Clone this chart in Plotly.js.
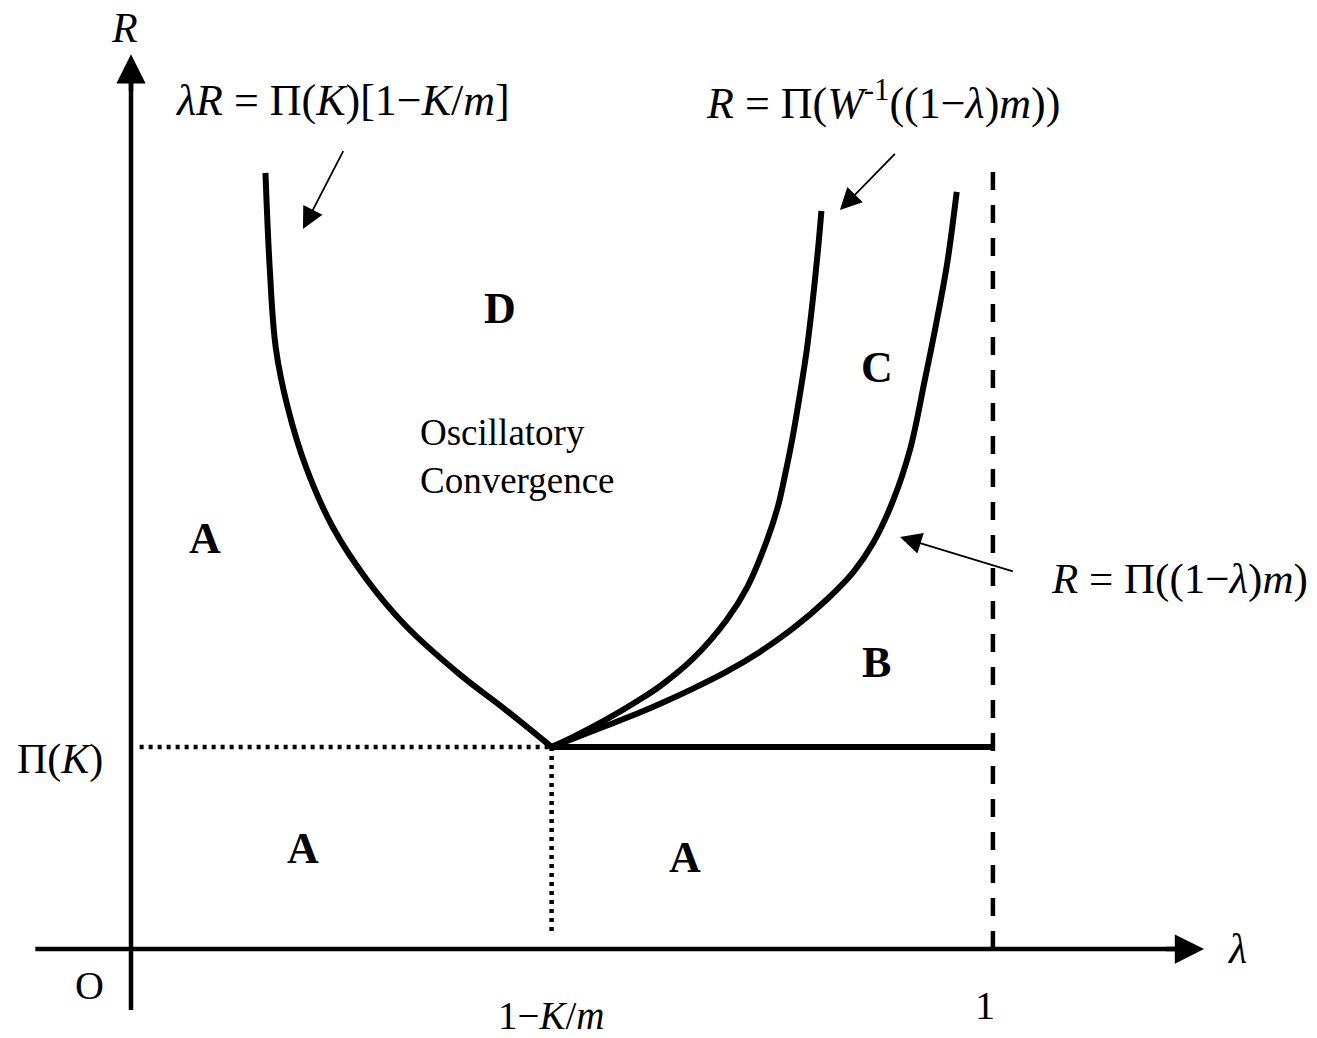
<!DOCTYPE html>
<html>
<head>
<meta charset="utf-8">
<script src="https://cdn.plot.ly/plotly-3.0.1.min.js"></script>
<style>
  html, body { margin: 0; padding: 0; background: #fff; }
  #regime { width: 1317px; height: 1038px; }
</style>
</head>
<body>
<div id="regime"></div>
<script>
// lambda on x, R on y, R measured in units of Pi(K)
var lambdaStar = 0.488;   // 1 - K/m
var piK = 1;
var lambdaOne = 1;

// lambda R = Pi(K)[1 - K/m]
var leftLam = [0.488, 0.435, 0.381, 0.319, 0.273, 0.234, 0.203, 0.182, 0.168, 0.161, 0.156];
var leftR   = [1.000, 1.183, 1.361, 1.599, 1.832, 2.089, 2.386, 2.678, 2.975, 3.366, 3.842];

// R = Pi(W^-1((1 - lambda)m))
var midLam = [0.488, 0.513, 0.550, 0.588, 0.614, 0.652, 0.691, 0.715, 0.738, 0.751, 0.760, 0.767, 0.775, 0.784, 0.791, 0.797, 0.801];
var midR   = [1.000, 1.050, 1.133, 1.229, 1.302, 1.437, 1.629, 1.792, 2.025, 2.198, 2.371, 2.520, 2.718, 2.965, 3.213, 3.460, 3.654];

// R = Pi((1 - lambda)m)
var rightLam = [0.488, 0.515, 0.553, 0.591, 0.614, 0.652, 0.691, 0.730, 0.768, 0.807, 0.838, 0.861, 0.884, 0.904, 0.921, 0.935, 0.947, 0.958];
var rightR   = [1.000, 1.045, 1.108, 1.172, 1.214, 1.289, 1.373, 1.472, 1.587, 1.729, 1.866, 2.010, 2.218, 2.475, 2.817, 3.114, 3.396, 3.748];

var dashTop = 3.89;      // top of the lambda = 1 dashed line

var serif = 'Liberation Serif, Times New Roman, serif';

function curve(x, y) {
  return { x: x, y: y, type: 'scatter', mode: 'lines',
           line: {color: '#000', width: 6, shape: 'spline', smoothing: 1},
           hoverinfo: 'none' };
}

var data = [
  curve(leftLam, leftR),
  curve(midLam, midR),
  curve(rightLam, rightR),
  // B / A border
  { x: [lambdaStar, lambdaOne], y: [piK, piK], type: 'scatter', mode: 'lines',
    line: {color: '#000', width: 6}, hoverinfo: 'none' },
  // Pi(K) guide
  { x: [0.01, lambdaStar], y: [piK, piK], type: 'scatter', mode: 'lines',
    line: {color: '#000', width: 4.5, dash: '4px,5px'}, hoverinfo: 'none' },
  // 1-K/m guide
  { x: [lambdaStar, lambdaStar], y: [piK, 0.07], type: 'scatter', mode: 'lines',
    line: {color: '#000', width: 4.5, dash: '4px,5px'}, hoverinfo: 'none' },
  // lambda = 1
  { x: [lambdaOne, lambdaOne], y: [0, dashTop], type: 'scatter', mode: 'lines',
    line: {color: '#000', width: 4.5, dash: '18px,15px'}, hoverinfo: 'none' }
];

function label(txt, x, y, size, extra) {
  var a = { text: txt, x: x, y: y, xref: 'x', yref: 'y', showarrow: false,
            font: {family: serif, size: size, color: '#000'} };
  for (var k in extra) a[k] = extra[k];
  return a;
}

function pointer(x, y, ax, ay) {
  return { text: ' ', x: x, y: y, ax: ax, ay: ay, xref: 'x', yref: 'y',
           axref: 'x', ayref: 'y', showarrow: true, arrowhead: 2,
           arrowsize: 2.4, arrowwidth: 1.8, arrowcolor: '#000', standoff: 0,
           font: {size: 2} };
}

var annotations = [
  label('<i>R</i>', -0.007, 4.56, 42),
  label('<i>λR</i> = Π(<i>K</i>)[1−<i>K</i>/<i>m</i>]', 0.245, 4.20, 44),
  label('<i>R</i> = Π(<i>W</i><sup>-1</sup>((1−<i>λ</i>)<i>m</i>))', 0.872, 4.20, 44),
  label('<i>R</i> = Π((1−<i>λ</i>)<i>m</i>)', 1.217, 1.83, 43),
  label('Π(<i>K</i>)', -0.082, 0.94, 42),
  label('O', -0.048, -0.18, 40),
  label('1−<i>K</i>/<i>m</i>', lambdaStar, -0.33, 39),
  label('1', 0.991, -0.28, 40),
  label('<i>λ</i>', 1.283, 0.0, 42),
  label('<b>D</b>', 0.428, 3.17, 44),
  label('<b>C</b>', 0.865, 2.88, 44),
  label('<b>B</b>', 0.865, 1.42, 44),
  label('<b>A</b>', 0.086, 2.03, 44),
  label('<b>A</b>', 0.1995, 0.50, 44),
  label('<b>A</b>', 0.643, 0.455, 44),
  label('Oscillatory<br>Convergence', 0.333, 2.44, 37, {xanchor: 'left', align: 'left'}),
  pointer(0.1995, 3.564, 0.248, 3.965),
  pointer(0.8225, 3.658, 0.8886, 3.946),
  pointer(0.8921, 2.040, 1.0255, 1.866),
  // axis arrowheads
  { text: ' ', x: 0, y: 4.43, ax: 0, ay: 40, xref: 'x', yref: 'y', showarrow: true,
    arrowhead: 2, arrowsize: 1.3, arrowwidth: 4.5, arrowcolor: '#000', standoff: 0,
    font: {size: 2} },
  { text: ' ', x: 1.245, y: 0, ax: -40, ay: 0, xref: 'x', yref: 'y', showarrow: true,
    arrowhead: 2, arrowsize: 1.3, arrowwidth: 4.5, arrowcolor: '#000', standoff: 0,
    font: {size: 2} }
];

var shapes = [
  { type: 'line', xref: 'x', yref: 'y', x0: 0, x1: 0, y0: -0.302, y1: 4.35,
    line: {color: '#000', width: 4.5} },
  { type: 'line', xref: 'x', yref: 'y', x0: -0.111, x1: 1.22, y0: 0, y1: 0,
    line: {color: '#000', width: 4.5} }
];

var layout = {
  width: 1317, height: 1038,
  margin: {l: 0, r: 0, t: 0, b: 0},
  paper_bgcolor: '#fff', plot_bgcolor: '#fff',
  showlegend: false,
  xaxis: {range: [-0.152, 1.376], visible: false, fixedrange: true},
  yaxis: {range: [-0.4406, 4.698], visible: false, fixedrange: true},
  annotations: annotations,
  shapes: shapes
};

Plotly.newPlot('regime', data, layout, {displayModeBar: false, staticPlot: true});
</script>
</body>
</html>
